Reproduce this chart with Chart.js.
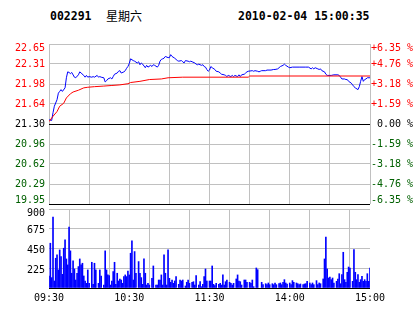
<!DOCTYPE html>
<html>
<head>
<meta charset="utf-8">
<script src="https://cdn.jsdelivr.net/npm/chart.js@4.4.0/dist/chart.umd.min.js"></script>
<style>
  body { margin: 0; background: #fff; }
  #wrap { position: relative; width: 414px; height: 314px; overflow: hidden; background: #fff; }
  canvas { position: absolute; left: 0; top: 0; }
  .head { position: absolute; top: 10px; font: bold 11.5px "DejaVu Sans Mono", monospace; line-height: 13px; color: #000; white-space: pre; }
  .cjk { font: 12px "Noto Sans CJK SC", sans-serif; line-height: 14px; top: 9px; }
</style>
</head>
<body>
<div id="wrap">
  <div class="head" style="left:50px">002291</div>
  <div class="head cjk" style="left:106px">星期六</div>
  <div class="head" style="left:238px">2010-02-04 15:00:35</div>
  <canvas id="priceChart" width="414" height="314"></canvas>
  <canvas id="volChart" width="414" height="314"></canvas>
</div>
<script>
// minutes since 09:30 (11:30 and 13:00 share minute 120)
const priceMinutes = [
  0, 2, 3, 4, 6, 7, 8, 9, 10, 12,
  13, 14, 15, 16, 17, 19, 20, 22, 23, 24,
  26, 27, 28, 29, 30, 32, 33, 34, 36, 37,
  38, 39, 41, 42, 43, 44, 46, 47, 48, 49,
  51, 52, 53, 54, 56, 57, 58, 59, 60, 61,
  63, 64, 66, 67, 68, 69, 70, 72, 73, 74,
  76, 77, 78, 79, 81, 82, 83, 84, 85, 86,
  87, 89, 90, 91, 92, 94, 95, 96, 97, 99,
  100, 101, 102, 104, 105, 106, 107, 109, 110, 111,
  112, 114, 115, 116, 117, 118, 119, 120, 121, 122,
  124, 125, 127, 128, 129, 131, 132, 133, 134, 136,
  137, 138, 139, 141, 142, 143, 144, 146, 147, 148,
  149, 152, 153, 154, 156, 157, 158, 159, 162, 163,
  166, 168, 169, 171, 172, 173, 175, 176, 177, 179,
  180, 182, 187, 192, 194, 196, 197, 198, 199, 201,
  202, 203, 204, 206, 207, 208, 211, 213, 216, 217,
  218, 219, 221, 222, 223, 224, 226, 227, 228, 229,
  231, 232, 233, 234, 235, 236, 237, 238, 240
];
const priceValues = [
  21.37, 21.36, 21.49, 21.60, 21.71, 21.82, 21.85, 21.88, 21.85, 21.91,
  22.08, 22.18, 22.17, 22.15, 22.17, 22.09, 22.08, 22.13, 22.18, 22.16,
  22.12, 22.09, 22.12, 22.09, 22.10, 22.09, 22.10, 22.09, 22.12, 22.09,
  22.10, 22.09, 22.08, 22.01, 22.03, 22.06, 22.08, 22.06, 22.10, 22.14,
  22.16, 22.19, 22.20, 22.16, 22.18, 22.20, 22.24, 22.27, 22.32, 22.40,
  22.37, 22.36, 22.33, 22.35, 22.30, 22.33, 22.31, 22.25, 22.29, 22.26,
  22.29, 22.27, 22.30, 22.29, 22.26, 22.29, 22.36, 22.39, 22.40, 22.41,
  22.44, 22.42, 22.42, 22.47, 22.44, 22.41, 22.39, 22.37, 22.36, 22.37,
  22.35, 22.33, 22.37, 22.36, 22.35, 22.36, 22.35, 22.33, 22.31, 22.30,
  22.31, 22.29, 22.30, 22.27, 22.26, 22.22, 22.19, 22.21, 22.27, 22.25,
  22.22, 22.19, 22.18, 22.16, 22.14, 22.13, 22.12, 22.10, 22.12, 22.10,
  22.12, 22.10, 22.12, 22.10, 22.13, 22.10, 22.13, 22.14, 22.16, 22.18,
  22.19, 22.20, 22.19, 22.20, 22.19, 22.18, 22.19, 22.20, 22.20, 22.21,
  22.21, 22.22, 22.22, 22.23, 22.25, 22.27, 22.29, 22.31, 22.29, 22.26,
  22.25, 22.26, 22.26, 22.26, 22.26, 22.23, 22.25, 22.23, 22.25, 22.23,
  22.22, 22.23, 22.20, 22.18, 22.14, 22.12, 22.12, 22.13, 22.13, 22.12,
  22.09, 22.06, 22.06, 22.05, 22.05, 22.02, 21.99, 21.96, 21.93, 21.91,
  21.88, 21.93, 22.02, 22.10, 22.02, 22.05, 22.06, 22.08, 22.08
];

const avgMinutes = [0, 3, 6, 8, 11, 13, 16, 18, 22, 26, 29, 34, 41, 47, 53, 59, 61, 68, 75, 84, 89, 100, 149, 150, 240];
const avgValues = [21.34, 21.43, 21.51, 21.60, 21.65, 21.74, 21.81, 21.84, 21.87, 21.91, 21.92, 21.93, 21.94, 21.95, 21.96, 21.98, 22.00, 22.02, 22.05, 22.06, 22.08, 22.09, 22.09, 22.11, 22.11];

const volMinutes = [
  0, 1, 2, 3, 4, 5, 6, 7, 8, 9,
  10, 11, 12, 13, 14, 15, 16, 17, 18, 19,
  20, 21, 22, 23, 24, 25, 26, 27, 28, 29,
  30, 32, 33, 34, 35, 37, 38, 39, 41, 42,
  43, 44, 45, 46, 47, 48, 49, 50, 51, 52,
  53, 54, 55, 56, 57, 58, 59, 60, 61, 62,
  63, 64, 65, 67, 68, 69, 70, 71, 72, 73,
  74, 75, 77, 78, 80, 81, 82, 83, 84, 85,
  86, 87, 88, 89, 90, 91, 92, 93, 94, 95,
  97, 98, 99, 100, 102, 103, 104, 105, 107, 108,
  109, 110, 112, 113, 114, 115, 116, 117, 118, 120,
  121, 122, 123, 124, 125, 127, 128, 129, 130, 131,
  132, 133, 135, 136, 137, 138, 140, 141, 142, 143,
  144, 146, 147, 148, 150, 151, 152, 153, 155, 156,
  159, 160, 162, 163, 164, 165, 167, 168, 169, 170,
  172, 173, 174, 175, 176, 177, 178, 180, 181, 182,
  183, 185, 186, 187, 188, 190, 191, 192, 193, 195,
  196, 197, 198, 200, 201, 202, 203, 205, 206, 207,
  208, 209, 210, 211, 212, 213, 215, 216, 217, 218,
  219, 220, 221, 222, 223, 224, 225, 227, 228, 229,
  230, 231, 232, 233, 234, 235, 236, 237, 238, 239,
  240
];
const volValues = [
  137, 510, 118, 808, 80, 339, 377, 206, 434, 358,
  156, 453, 549, 331, 263, 693, 423, 168, 309, 217,
  91, 168, 244, 331, 263, 282, 137, 80, 53, 206,
  53, 293, 42, 282, 206, 53, 206, 137, 34, 423,
  206, 149, 141, 34, 80, 187, 293, 42, 168, 80,
  103, 91, 53, 130, 149, 130, 194, 149, 396, 537,
  91, 415, 168, 301, 168, 118, 42, 331, 168, 34,
  53, 34, 110, 251, 34, 34, 91, 91, 149, 34,
  377, 168, 34, 434, 110, 65, 91, 53, 80, 130,
  42, 91, 80, 91, 23, 65, 91, 53, 65, 72,
  34, 141, 34, 72, 15, 42, 130, 217, 80, 80,
  80, 251, 42, 27, 53, 42, 53, 34, 149, 34,
  72, 91, 65, 53, 34, 53, 103, 149, 80, 72,
  34, 91, 91, 65, 65, 53, 91, 15, 228, 209,
  65, 38, 49, 38, 57, 38, 49, 38, 57, 38,
  49, 57, 38, 65, 95, 57, 46, 57, 38, 84,
  65, 57, 49, 38, 46, 38, 46, 49, 76, 57,
  38, 57, 38, 84, 38, 57, 49, 103, 331, 581,
  217, 114, 125, 95, 114, 57, 76, 103, 163, 49,
  152, 407, 95, 65, 179, 239, 228, 76, 437, 179,
  95, 152, 65, 95, 133, 76, 95, 76, 163, 76,
  228
];

// tick labels, bottom to top
const priceTickLabels = ['19.95', '20.29', '20.62', '20.96', '21.30', '21.64', '21.98', '22.31', '22.65'];
const pctTickLabels = ['-6.35 %', '-4.76 %', '-3.18 %', '-1.59 %', ' 0.00 %', '+1.59 %', '+3.18 %', '+4.76 %', '+6.35 %'];
const volTickLabels = ['', '225', '450', '675', '900'];
const timeMinutes = [0, 60, 120, 180, 240];
const timeLabels = ['09:30', '10:30', '11:30', '14:00', '15:00'];

const RED = '#ff0000';
const GREEN = '#006000';
const GRID = '#c0c0c0';
const MONO = '"DejaVu Sans Mono", monospace';

// y labels drawn by hand so the first and last stay inside the panel
const sideLabels = {
  id: 'sideLabels',
  afterDraw(chart, args, opts) {
    const ctx = chart.ctx;
    const area = chart.chartArea;
    const scale = chart.scales.y;
    ctx.save();
    ctx.font = '10px ' + MONO;
    ctx.textBaseline = 'middle';
    scale.ticks.forEach((t, i) => {
      let y = scale.getPixelForValue(t.value) + opts.shift;
      y = Math.max(area.top + 4, Math.min(area.bottom - 4, y));
      ctx.fillStyle = opts.color(i);
      ctx.textAlign = 'right';
      ctx.fillText(opts.left[i], area.left - 4, y);
      if (opts.right) {
        ctx.textAlign = 'left';
        ctx.fillText(opts.right[i], area.right + 1, y);
      }
    });
    ctx.restore();
  }
};

const mid = priceTickLabels.indexOf('21.30');
function priceColor(i) {
  if (i < mid) return GREEN;
  if (i === mid) return '#000';
  return RED;
}

function timeAxis(showLabels) {
  return {
    type: 'linear',
    min: 0,
    max: 240,
    offset: false,
    z: -1,
    grid: { color: GRID, drawTicks: false },
    border: { display: false },
    ticks: {
      display: showLabels,
      stepSize: 30,
      padding: 4,
      color: '#000',
      maxRotation: 0,
      autoSkip: false,
      font: { family: MONO, size: 10 },
      callback: (v) => {
        const k = timeMinutes.indexOf(v);
        return k >= 0 ? timeLabels[k] : '';
      }
    },
    afterFit: (s) => { s.height = showLabels ? 26 : 0; }
  };
}

new Chart(document.getElementById('priceChart'), {
  type: 'line',
  data: {
    datasets: [
      {
        data: avgMinutes.map((m, i) => ({ x: m, y: avgValues[i] })),
        borderColor: RED,
        borderWidth: 1,
        pointRadius: 0
      },
      {
        data: priceMinutes.map((m, i) => ({ x: m, y: priceValues[i] })),
        borderColor: '#0000ff',
        borderWidth: 1,
        pointRadius: 0
      }
    ]
  },
  options: {
    responsive: false,
    animation: false,
    events: [],
    layout: { padding: { top: 44, bottom: 110, left: 0, right: 44 } },
    plugins: {
      legend: { display: false },
      tooltip: { enabled: false },
      sideLabels: { left: priceTickLabels, right: pctTickLabels, color: priceColor, shift: 0.5 }
    },
    scales: {
      x: timeAxis(false),
      y: {
        min: 19.95,
        max: 22.65,
        grid: {
          drawTicks: false,
          color: (c) => (c.index === 0 || c.index === mid) ? '#000' : GRID
        },
        border: { display: false },
        ticks: { display: false },
        afterBuildTicks: (s) => {
          const n = priceTickLabels.length - 1;
          s.ticks = priceTickLabels.map((_, i) => ({ value: s.min + i * (s.max - s.min) / n }));
        },
        afterFit: (s) => { s.width = 49; }
      }
    }
  },
  plugins: [sideLabels]
});

new Chart(document.getElementById('volChart'), {
  type: 'bar',
  data: {
    datasets: [{
      data: volMinutes.map((m, i) => ({ x: m, y: volValues[i] })),
      backgroundColor: '#0000ff',
      barThickness: 1
    }]
  },
  options: {
    responsive: false,
    animation: false,
    events: [],
    layout: { padding: { top: 209, bottom: 0, left: 0, right: 44 } },
    plugins: {
      legend: { display: false },
      tooltip: { enabled: false },
      sideLabels: { left: volTickLabels, color: () => '#000', shift: 2 }
    },
    scales: {
      x: timeAxis(true),
      y: {
        min: 0,
        max: 900,
        grid: {
          drawTicks: false,
          color: (c) => c.index === 0 ? '#000' : GRID
        },
        border: { display: false },
        ticks: { display: false, stepSize: 225 },
        afterFit: (s) => { s.width = 49; }
      }
    }
  },
  plugins: [sideLabels]
});
</script>
</body>
</html>
